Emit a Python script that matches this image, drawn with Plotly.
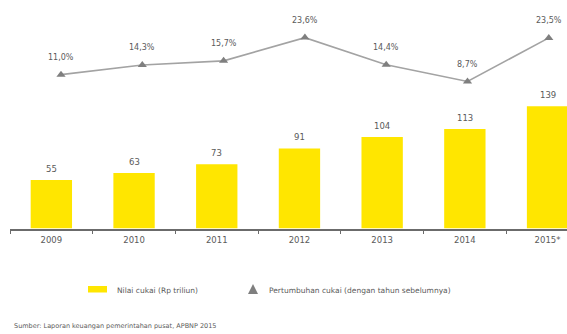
import plotly.graph_objects as go

# Data
years = ["2009", "2010", "2011", "2012", "2013", "2014", "2015*"]
excise_value = [55, 63, 73, 91, 104, 113, 139]          # Rp trillion
excise_growth = [11.0, 14.3, 15.7, 23.6, 14.4, 8.7, 23.5]  # % vs previous year

legend_bar = "Nilai cukai (Rp triliun)"
legend_line = "Pertumbuhan cukai (dengan tahun sebelumnya)"
source_note = "Sumber: Laporan keuangan pemerintahan pusat, APBNP 2015"

W, H = 567, 334
FONT = "DejaVu Sans"
TXT = "#5a5a5a"
YELLOW = "#FFE600"

fig = go.Figure()

fig.add_trace(go.Bar(
    x=years, y=excise_value, width=0.5,
    marker=dict(color=YELLOW, line=dict(width=0)),
    xaxis="x", yaxis="y", showlegend=False, hoverinfo="skip",
))

fig.add_trace(go.Scatter(
    x=years, y=excise_growth, mode="lines+markers",
    line=dict(color="#a3a3a3", width=1.6),
    marker=dict(symbol="triangle-up", size=8, color="#7f7f7f"),
    xaxis="x2", yaxis="y2", showlegend=False, hoverinfo="skip",
))

# value labels; category axes take the category index as position
annotations = []
for i, v in enumerate(excise_value):
    annotations.append(dict(
        x=i, y=v, xref="x", yref="y", text=str(v), showarrow=False,
        yanchor="middle", yshift=11, font=dict(family=FONT, size=8.5, color=TXT),
    ))
for i, g in enumerate(excise_growth):
    annotations.append(dict(
        x=i, y=g, xref="x2", yref="y2", text=f"{g:.1f}%".replace(".", ","),
        showarrow=False, yanchor="middle", yshift=17,
        font=dict(family=FONT, size=8, color=TXT),
    ))

# legend drawn as swatch + labels
annotations.append(dict(
    x=115 / W, y=1 - 290 / H, xref="paper", yref="paper", text=legend_bar,
    showarrow=False, xanchor="left", yanchor="middle",
    font=dict(family=FONT, size=7.5, color=TXT),
))
annotations.append(dict(
    x=267 / W, y=1 - 290 / H, xref="paper", yref="paper", text=legend_line,
    showarrow=False, xanchor="left", yanchor="middle",
    font=dict(family=FONT, size=7.5, color=TXT),
))
annotations.append(dict(
    x=12 / W, y=1 - 326 / H, xref="paper", yref="paper", text=source_note,
    showarrow=False, xanchor="left", yanchor="middle",
    font=dict(family=FONT, size=6.5, color=TXT),
))

shapes = [
    dict(type="rect", xref="paper", yref="paper",
         x0=88 / W, x1=107 / W, y0=1 - 292.5 / H, y1=1 - 286 / H,
         fillcolor=YELLOW, line=dict(width=0)),
    dict(type="path", xref="paper", yref="paper",
         path=f"M {248/W},{1-294/H} L {258/W},{1-294/H} L {253/W},{1-284/H} Z",
         fillcolor="#7f7f7f", line=dict(width=0)),
]

bar_px = 82.7      # category width of bar axis
bar_x0 = 10
line_px = 81.3
line_c0 = 61
line_x0 = line_c0 - 0.5 * line_px

fig.update_layout(
    width=W, height=H,
    margin=dict(l=0, r=0, t=0, b=0),
    paper_bgcolor="white", plot_bgcolor="rgba(0,0,0,0)",
    bargap=0.5,
    xaxis=dict(
        type="category", categoryorder="array", categoryarray=years,
        domain=[bar_x0 / W, 1], range=[-0.5, -0.5 + (W - bar_x0) / bar_px],
        anchor="y", showline=True, linecolor="#6b6b6b", linewidth=1.5,
        ticks="outside", tickson="boundaries", ticklen=4, tickcolor="#6b6b6b",
        tickwidth=1, showgrid=False, zeroline=False, ticklabelstandoff=3,
        tickfont=dict(family=FONT, size=8.5, color=TXT), fixedrange=True,
    ),
    yaxis=dict(
        domain=[(H - 228.5) / H, 1], range=[0, 228.5 / 0.88],
        visible=False, showgrid=False, zeroline=False,
    ),
    xaxis2=dict(
        domain=[line_x0 / W, 1], range=[-0.5, -0.5 + (W - line_x0) / line_px],
        anchor="y2", visible=False, type="category",
        categoryorder="array", categoryarray=years,
    ),
    yaxis2=dict(
        domain=[(H - 107) / H, 1], range=[0, 107 / 2.94],
        anchor="x2", visible=False, showgrid=False, zeroline=False,
    ),
    annotations=annotations,
    shapes=shapes,
)

fig.write_html("out.html")
